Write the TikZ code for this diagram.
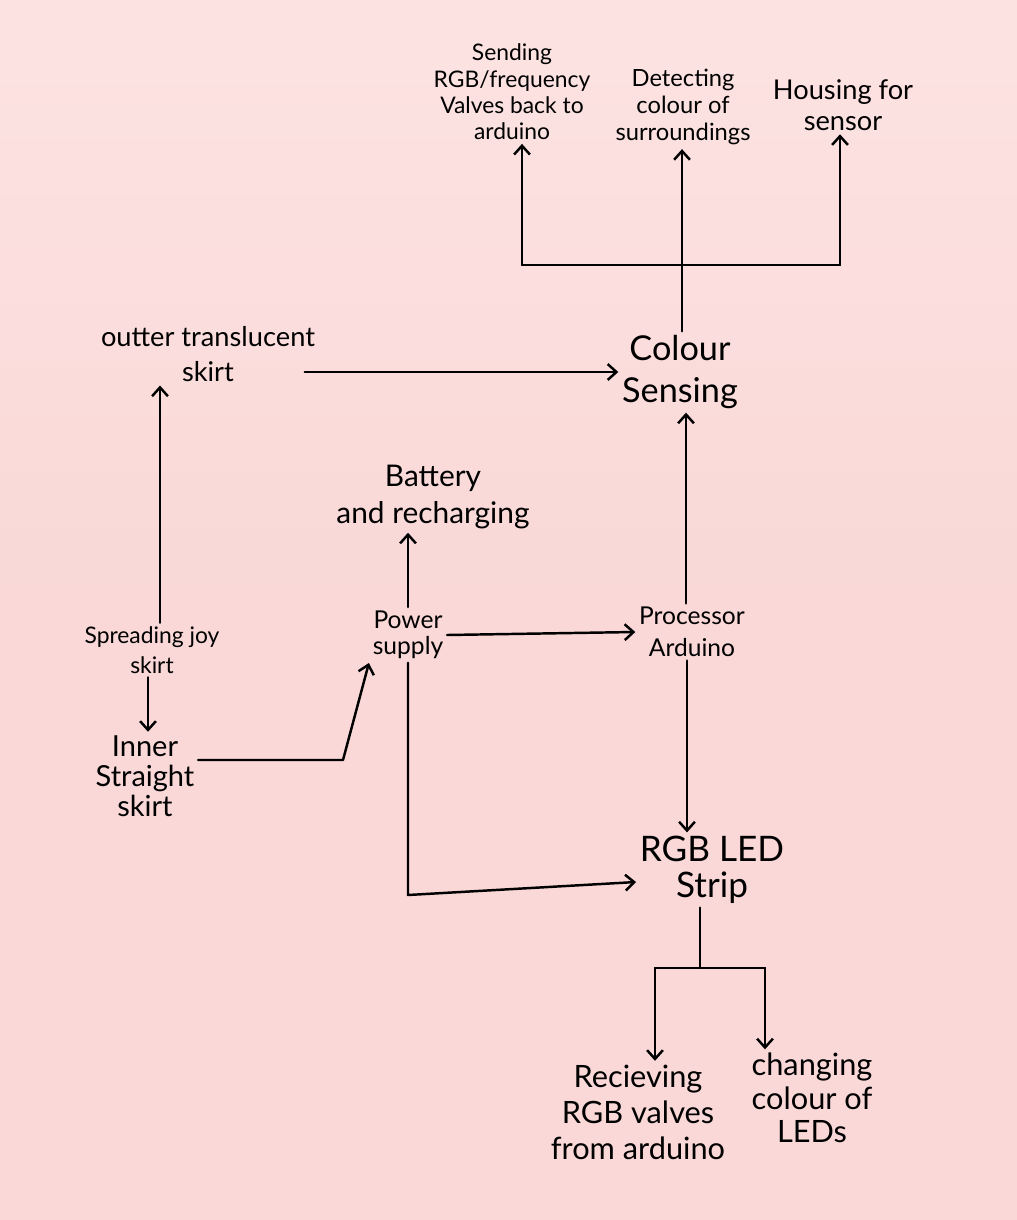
\documentclass[tikz,border=0pt]{standalone}
\usepackage{fontspec}
\setmainfont{Lato}
\usetikzlibrary{arrows.meta}
\definecolor{bgpink}{HTML}{F9D8D7}
\definecolor{bglight}{HTML}{FCE3E2}
\tikzset{
  lbl/.style 2 args={align=center, inner sep=2pt, font=\fontsize{#1pt}{#2pt}\selectfont},
  line/.style={line width=1.4pt, line cap=round, line join=round, black},
  arr/.style={line, -{Straight Barb[length=5pt,width=9pt,line width=1.4pt]}}
}
\begin{document}
\begin{tikzpicture}[x=0.02cm,y=-0.02cm]
\shade[top color=bglight, bottom color=bgpink, middle color=bgpink] (0,0) rectangle (1017,1220);
\useasboundingbox (0,0) rectangle (1017,1220);

% nodes
\node[lbl={13}{15}] (send) at (512,92) {Sending\\RGB/frequency\\Valves back to\\arduino};
\node[lbl={13.5}{15.6}] (det) at (683,107) {Detecting\\colour of\\surroundings};
\node[lbl={15.5}{17.5}] (house) at (843,105) {Housing for\\sensor};
\node[lbl={19.5}{24}] (sense) at (680,372) {Colour\\Sensing};
\node[lbl={15.5}{20}] (outer) at (208,354) {outter translucent\\skirt};
\node[lbl={17}{21}] (batt) at (433,497) {Battery\\and recharging};
\node[lbl={13}{17}] (spread) at (152,650) {Spreading joy\\skirt};
\node[lbl={14}{15}] (power) at (408,635) {Power\\supply};
\node[lbl={14}{18}] (proc) at (692,632) {Processor\\Arduino};
\node[lbl={16.5}{17}] (inner) at (145,776) {Inner\\Straight\\skirt};
\node[lbl={20}{20.5}] (rgb) at (712,870) {RGB LED\\Strip};
\node[lbl={17.5}{20.5}] (recv) at (638,1112) {Recieving\\RGB valves\\from arduino};
\node[lbl={17.5}{19}] (chg) at (812,1098) {changing\\colour of\\LEDs};

% junction coordinates
\coordinate (jt) at (682,265);
\coordinate (jtl) at (522,265);
\coordinate (jtr) at (840,265);
\coordinate (jb) at (700,968);
\coordinate (jbl) at (655,968);
\coordinate (jbr) at (765,968);
\coordinate (kink) at (343,760);

% top branch
\draw[line] (sense.north -| jt) -- (jt);
\draw[line] (jtl) -- (jtr);
\draw[arr] (jtl) -- (jtl |- send.south);
\draw[arr] (jt) -- (jt |- det.south);
\draw[arr] (jtr) -- (jtr |- house.south);

% left side
\draw[arr] ([xshift=-8pt]outer.east |- sense.west) -- (sense.west);
\draw[arr] (spread.north -| 160,0) -- (160,0 |- outer.south);
\draw[arr] (spread.south -| 148,0) -- (148,0 |- inner.north);
\draw[arr] (inner.east |- kink) -- (kink) -- (power.south west);

% power / processor
\draw[arr] (power.north) -- (power.north |- batt.south);
\draw[arr] (power.east) -- (proc.west);
\draw[arr] (proc.north -| 686,0) -- (686,0 |- sense.south);
\draw[arr] (proc.south -| 687,0) -- (687,0 |- rgb.north);
\draw[arr] (power.south) -- (power.south |- 0,895) -- (rgb.west |- 0,882);

% bottom branch
\draw[line] (rgb.south -| jb) -- (jb);
\draw[line] (jbl) -- (jbr);
\draw[arr] (jbl) -- (jbl |- recv.north);
\draw[arr] (jbr) -- (jbr |- chg.north);
\end{tikzpicture}
\end{document}
